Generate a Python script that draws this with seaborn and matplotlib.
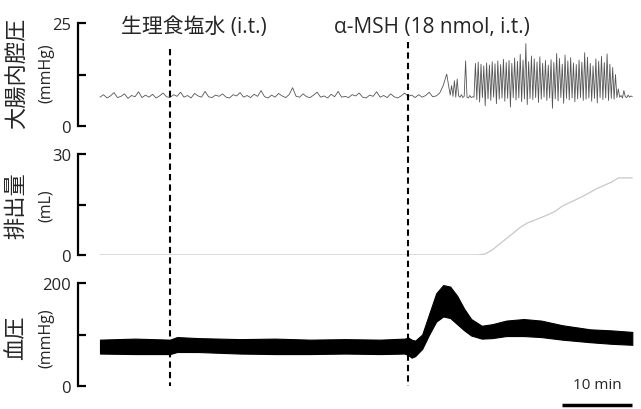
import numpy as np
import pandas as pd
import seaborn as sns
import matplotlib.pyplot as plt

sns.set_theme(style='white')
plt.rcParams['font.family'] = ['Open Sans', 'Noto Sans CJK JP', 'DejaVu Sans']

# event times (min) and labels
event_times = [10, 44]
event_labels = ['生理食塩水 (i.t.)', 'α-MSH (18 nmol, i.t.)']

# colon pressure (mmHg): quiet part every 0.5 min from 0, active part every 0.2 min from 50
cp_quiet = [7.0, 7.6, 6.8, 7.3, 8.1, 6.9, 7.2, 7.8, 6.7, 7.4, 7.1, 8.3, 6.9, 7.5, 7.0, 7.7, 6.8, 7.3, 8.0, 7.1,
            6.9, 7.6, 7.2, 8.2, 7.0, 7.4, 6.8, 7.9, 7.3, 7.0, 8.4, 7.1, 6.9, 7.5, 7.2, 7.8, 7.0, 6.8, 7.6, 7.3,
            8.1, 7.0, 7.4, 6.9, 7.7, 7.2, 8.6, 7.1, 6.8, 7.5, 7.0, 7.9, 7.3, 6.9, 7.6, 9.3, 7.2, 7.0, 7.8, 7.1,
            6.9, 7.5, 8.2, 7.0, 7.3, 6.8, 7.7, 7.1, 8.4, 7.0, 7.2, 6.9, 7.6, 7.3, 8.0, 7.0, 6.8, 7.5, 7.2, 8.3,
            7.0, 7.4, 6.9, 7.8, 7.1, 6.8, 7.3, 8.0, 7.2, 7.5, 6.9, 7.6, 7.0, 7.4, 8.2, 7.1, 7.3, 8.0, 9.8, 12.6]
cp_active = [7.5, 9.8, 7.2, 11.0, 7.0, 11.4, 7.3, 7.0, 7.6, 6.9, 7.2, 15.8, 7.0, 6.8, 7.4, 6.9, 7.1, 7.0,
             15.2, 6.4, 15.5, 5.8, 15.0, 6.9, 14.6, 4.9, 15.3, 6.6,
             14.8, 6.2, 15.6, 7.0, 15.1, 5.4, 15.8, 6.5, 14.9, 6.8,
             16.2, 6.0, 15.4, 6.7, 15.9, 4.6, 15.2, 6.9, 16.5, 6.3,
             15.7, 6.8, 17.4, 5.9, 16.0, 6.6, 20.0, 5.2, 15.6, 6.7,
             17.0, 6.4, 16.3, 6.9, 15.5, 5.7, 16.8, 6.5, 15.2, 7.0,
             15.9, 6.2, 14.8, 6.8, 16.1, 4.3, 15.4, 6.6, 17.6, 6.1,
             16.4, 6.9, 15.0, 5.5, 17.2, 6.7, 15.8, 6.3, 16.6, 6.8,
             15.3, 5.9, 14.9, 6.6, 16.0, 6.9, 15.5, 6.2, 17.8, 6.5,
             16.7, 6.8, 15.2, 6.0, 14.6, 6.7, 16.3, 5.6, 15.7, 6.9,
             16.9, 6.4, 15.4, 6.8, 17.5, 6.2, 15.0, 6.7, 14.2, 6.5,
             12.5, 6.9, 9.0,
             7.0, 7.4, 6.8, 8.6, 7.1, 6.9, 7.5, 7.0, 7.3, 7.1]

# excreted volume (mL)
vol_t = [0, 54, 55, 56, 57.5, 59, 60, 61, 62, 64, 65, 66, 67.5, 69, 71, 73, 74, 76]
vol_ml = [0, 0, 0.3, 1.5, 4, 6.5, 8.2, 9.5, 10.3, 12.0, 13.0, 14.5, 16.0, 17.5, 19.8, 21.6, 22.9, 22.9]

# blood pressure envelope (mmHg)
bp_t = [0, 5, 10, 11, 14, 20, 25, 30, 35, 40, 43.5, 44, 44.5, 45, 46, 47, 48, 49, 50, 51, 52, 53, 54.5,
        56, 58, 60.5, 63, 66, 70, 73, 76]
bp_hi = [90, 92, 90, 95, 93, 91, 92, 90, 91, 90, 92, 94, 90, 88, 100, 140, 180, 196, 193, 175, 150, 130, 117,
         120, 127, 130, 127, 118, 110, 108, 105]
bp_lo = [63, 62, 62, 66, 66, 63, 62, 62, 63, 62, 63, 60, 55, 58, 72, 100, 125, 135, 132, 120, 108, 98, 92,
         93, 97, 97, 95, 90, 85, 82, 80]

cp = pd.DataFrame({'t': np.concatenate([np.arange(len(cp_quiet)) * 0.5,
                                        50 + np.arange(len(cp_active)) * 0.2]),
                   'p': cp_quiet + cp_active})
vol = pd.DataFrame({'t': vol_t, 'v': vol_ml})

W, H = 641, 410
fig = plt.figure(figsize=(W / 100, H / 100), dpi=100)
xlim = (-3.14, 77.1)
left, width = 78 / W, 562 / W

def panel(top_px, bot_px, ymax, yname, unit, name_y):
    ax = fig.add_axes([left, 1 - bot_px / H, width, (bot_px - top_px) / H])
    ax.set_xlim(*xlim)
    ax.set_ylim(0, ymax)
    sns.despine(ax=ax, bottom=True)
    ax.spines['left'].set_linewidth(1.6)
    ax.spines['left'].set_color('black')
    ax.set_xticks([])
    ax.set_yticks([0, ymax / 2, ymax])
    ax.set_yticklabels([0, '', ymax])
    ax.yaxis.set_tick_params(which='major', direction='in', length=6, width=1.6,
                             labelsize=12, pad=5, left=True, color='black')
    fig.text(17 / W, 1 - name_y / H, yname, rotation=90, fontsize=16, ha='center', va='center')
    fig.text(46 / W, 1 - name_y / H, unit, rotation=90, fontsize=11.5, ha='center', va='center')
    ax.patch.set_alpha(0)
    return ax

ax1 = panel(24, 127, 25, '大腸内腔圧', '(mmHg)', 73)
sns.lineplot(data=cp, x='t', y='p', ax=ax1, color='#555555', linewidth=0.6, errorbar=None)
ax1.set_xlabel('')
ax1.set_ylabel('')

ax2 = panel(155, 256, 30, '排出量', '(mL)', 206)
sns.lineplot(data=vol, x='t', y='v', ax=ax2, color='#c8c8c8', linewidth=0.9, errorbar=None)
ax2.set_xlabel('')
ax2.set_ylabel('')

ax3 = panel(284, 387, 200, '血圧', '(mmHg)', 338)
ax3.fill_between(bp_t, bp_lo, bp_hi, color='black', linewidth=0.8, edgecolor='black')

# overlay for event lines, labels and scale bar (y in pixels)
ov = fig.add_axes([left, 0, width, 1])
ov.set_xlim(*xlim)
ov.set_ylim(H, 0)
ov.axis('off')
for t, lab, y0 in zip(event_times, event_labels, [50, 43]):
    ov.vlines(t, y0, 387, colors='black', linestyles=(0, (3, 2)), linewidth=1.5)
    ov.text(t + 3.4, 27, lab, fontsize=15, ha='center', va='center')

ov.hlines(406, 66, 76, colors='black', linewidth=2.5)
ov.text(71, 386, '10 min', fontsize=11, ha='center', va='center')

fig.savefig('out.png', dpi=100)
